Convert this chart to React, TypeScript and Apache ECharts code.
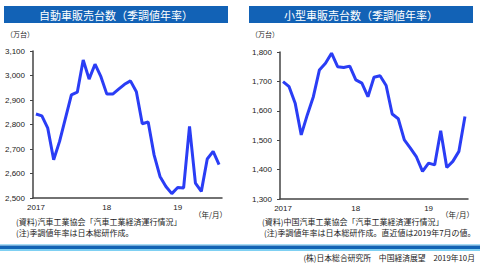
import React, { useEffect, useRef } from "react";
import * as echarts from "echarts";

const autoSales = [2843, 2835, 2785, 2656, 2731, 2826, 2921, 2932, 3063, 2985, 3046, 2995, 2924, 2924, 2944, 2964, 2978, 2934, 2803, 2810, 2676, 2588, 2547, 2518, 2543, 2541, 2792, 2561, 2527, 2659, 2690, 2636];
const smallCarSales = [1699, 1682, 1626, 1518, 1586, 1648, 1739, 1762, 1796, 1750, 1747, 1752, 1705, 1694, 1648, 1714, 1719, 1686, 1589, 1573, 1501, 1473, 1443, 1394, 1422, 1416, 1532, 1407, 1428, 1462, 1581];
const yearLabels = ["2017", "18", "19"];
const leftTitle = "自動車販売台数（季調値年率）";
const rightTitle = "小型車販売台数（季調値年率）";
const unitLabel = "（万台）";
const axisUnit = "（年/月）";
const leftNotes = ["(資料)汽車工業協会「汽車工業経済運行情況」", "(注)季調値年率は日本総研作成。"];
const rightNotes = ["(資料)中国汽車工業協会「汽車工業経済運行情況」", "(注)季調値年率は日本総研作成。直近値は2019年7月の値。"];
const footer = "(株)日本総合研究所　中国経済展望　2019年10月";

const monthCats = (n: number) => Array.from({ length: n }, (_, i) => String(i));

const JP = "'Noto Sans CJK JP', sans-serif";
const NUM = "'Liberation Sans', Arial, sans-serif";

export default function App() {
  const ref = useRef<HTMLDivElement>(null);
  useEffect(() => {
    if (!ref.current) return;
    const chart = echarts.init(ref.current, undefined, { renderer: "svg" });
    const mkX = (gridIndex: number, n: number) => ({
      type: "category" as const,
      gridIndex,
      data: monthCats(n),
      boundaryGap: true,
      axisLine: { lineStyle: { color: "#444", width: 1.5 } },
      axisTick: { length: 3, interval: (i: number) => i % 12 === 0, lineStyle: { color: "#444" } },
      axisLabel: {
        interval: (i: number) => i % 12 === 0,
        formatter: (v: string) => yearLabels[Math.floor(Number(v) / 12)] ?? "",
        fontSize: 8,
        fontFamily: NUM,
        color: "#222",
        margin: 5,
      },
      splitLine: { show: false },
    });
    const mkY = (gridIndex: number, min: number, max: number) => ({
      type: "value" as const,
      gridIndex,
      min,
      max,
      interval: 100,
      axisLine: { show: true, lineStyle: { color: "#444", width: 1.5 } },
      axisTick: { show: true, length: 3, lineStyle: { color: "#444" } },
      axisLabel: {
        fontSize: 8,
        fontFamily: NUM,
        color: "#222",
        margin: 8,
        formatter: (v: number) => v.toLocaleString("en-US"),
      },
      splitLine: { show: false },
    });
    const text = (t: string, x: number, y: number, opts: any = {}) => ({
      type: "text",
      x,
      y,
      style: {
        text: t,
        fontSize: opts.fontSize ?? 8,
        fontFamily: JP,
        fill: opts.fill ?? "#222",
        align: opts.align ?? "left",
        verticalAlign: "middle",
        fontWeight: opts.fontWeight ?? "normal",
      },
    });
    chart.setOption({
      animation: false,
      backgroundColor: "#fff",
      grid: [
        { left: 33, top: 51, width: 189, height: 147 },
        { left: 280, top: 52, width: 188, height: 147 },
      ],
      xAxis: [mkX(0, autoSales.length), mkX(1, smallCarSales.length)],
      yAxis: [mkY(0, 2500, 3100), mkY(1, 1300, 1800)],
      series: [
        {
          type: "line",
          xAxisIndex: 0,
          yAxisIndex: 0,
          data: autoSales,
          showSymbol: false,
          lineStyle: { color: "#2a3df5", width: 3 },
        },
        {
          type: "line",
          xAxisIndex: 1,
          yAxisIndex: 1,
          data: smallCarSales,
          showSymbol: false,
          lineStyle: { color: "#2a3df5", width: 3 },
        },
      ],
      graphic: [
        { type: "rect", shape: { x: 4, y: 6, width: 224, height: 17 }, style: { fill: "#1262b6" } },
        { type: "rect", shape: { x: 249, y: 6, width: 224, height: 17 }, style: { fill: "#1262b6" } },
        text(leftTitle, 116, 15, { fontSize: 11, fill: "#fff", align: "center" }),
        text(rightTitle, 361, 15, { fontSize: 11, fill: "#fff", align: "center" }),
        text(unitLabel, 6, 34, { fontSize: 7 }),
        text(unitLabel, 251, 34, { fontSize: 7 }),
        text(axisUnit, 227, 214, { fontSize: 7.5, align: "right" }),
        text(axisUnit, 474, 214, { fontSize: 7.5, align: "right" }),
        text(leftNotes[0], 16, 221),
        text(leftNotes[1], 16, 232),
        text(rightNotes[0], 262, 221),
        text(rightNotes[1], 264, 232),
        { type: "rect", shape: { x: 0, y: 244, width: 480, height: 1.5 }, style: { fill: "#a6dcf4" } },
        { type: "rect", shape: { x: 0, y: 245.5, width: 480, height: 3.5 }, style: { fill: "#1264b4" } },
        { type: "rect", shape: { x: 0, y: 249, width: 480, height: 2 }, style: { fill: "#7fd0f2" } },
        text(footer, 475, 257, { fontSize: 7.8, align: "right" }),
      ],
    });
    return () => chart.dispose();
  }, []);
  return (
    <div
      ref={ref}
      style={{ position: "fixed", left: 0, top: 0, width: 480, height: 264, background: "#fff" }}
    />
  );
}
